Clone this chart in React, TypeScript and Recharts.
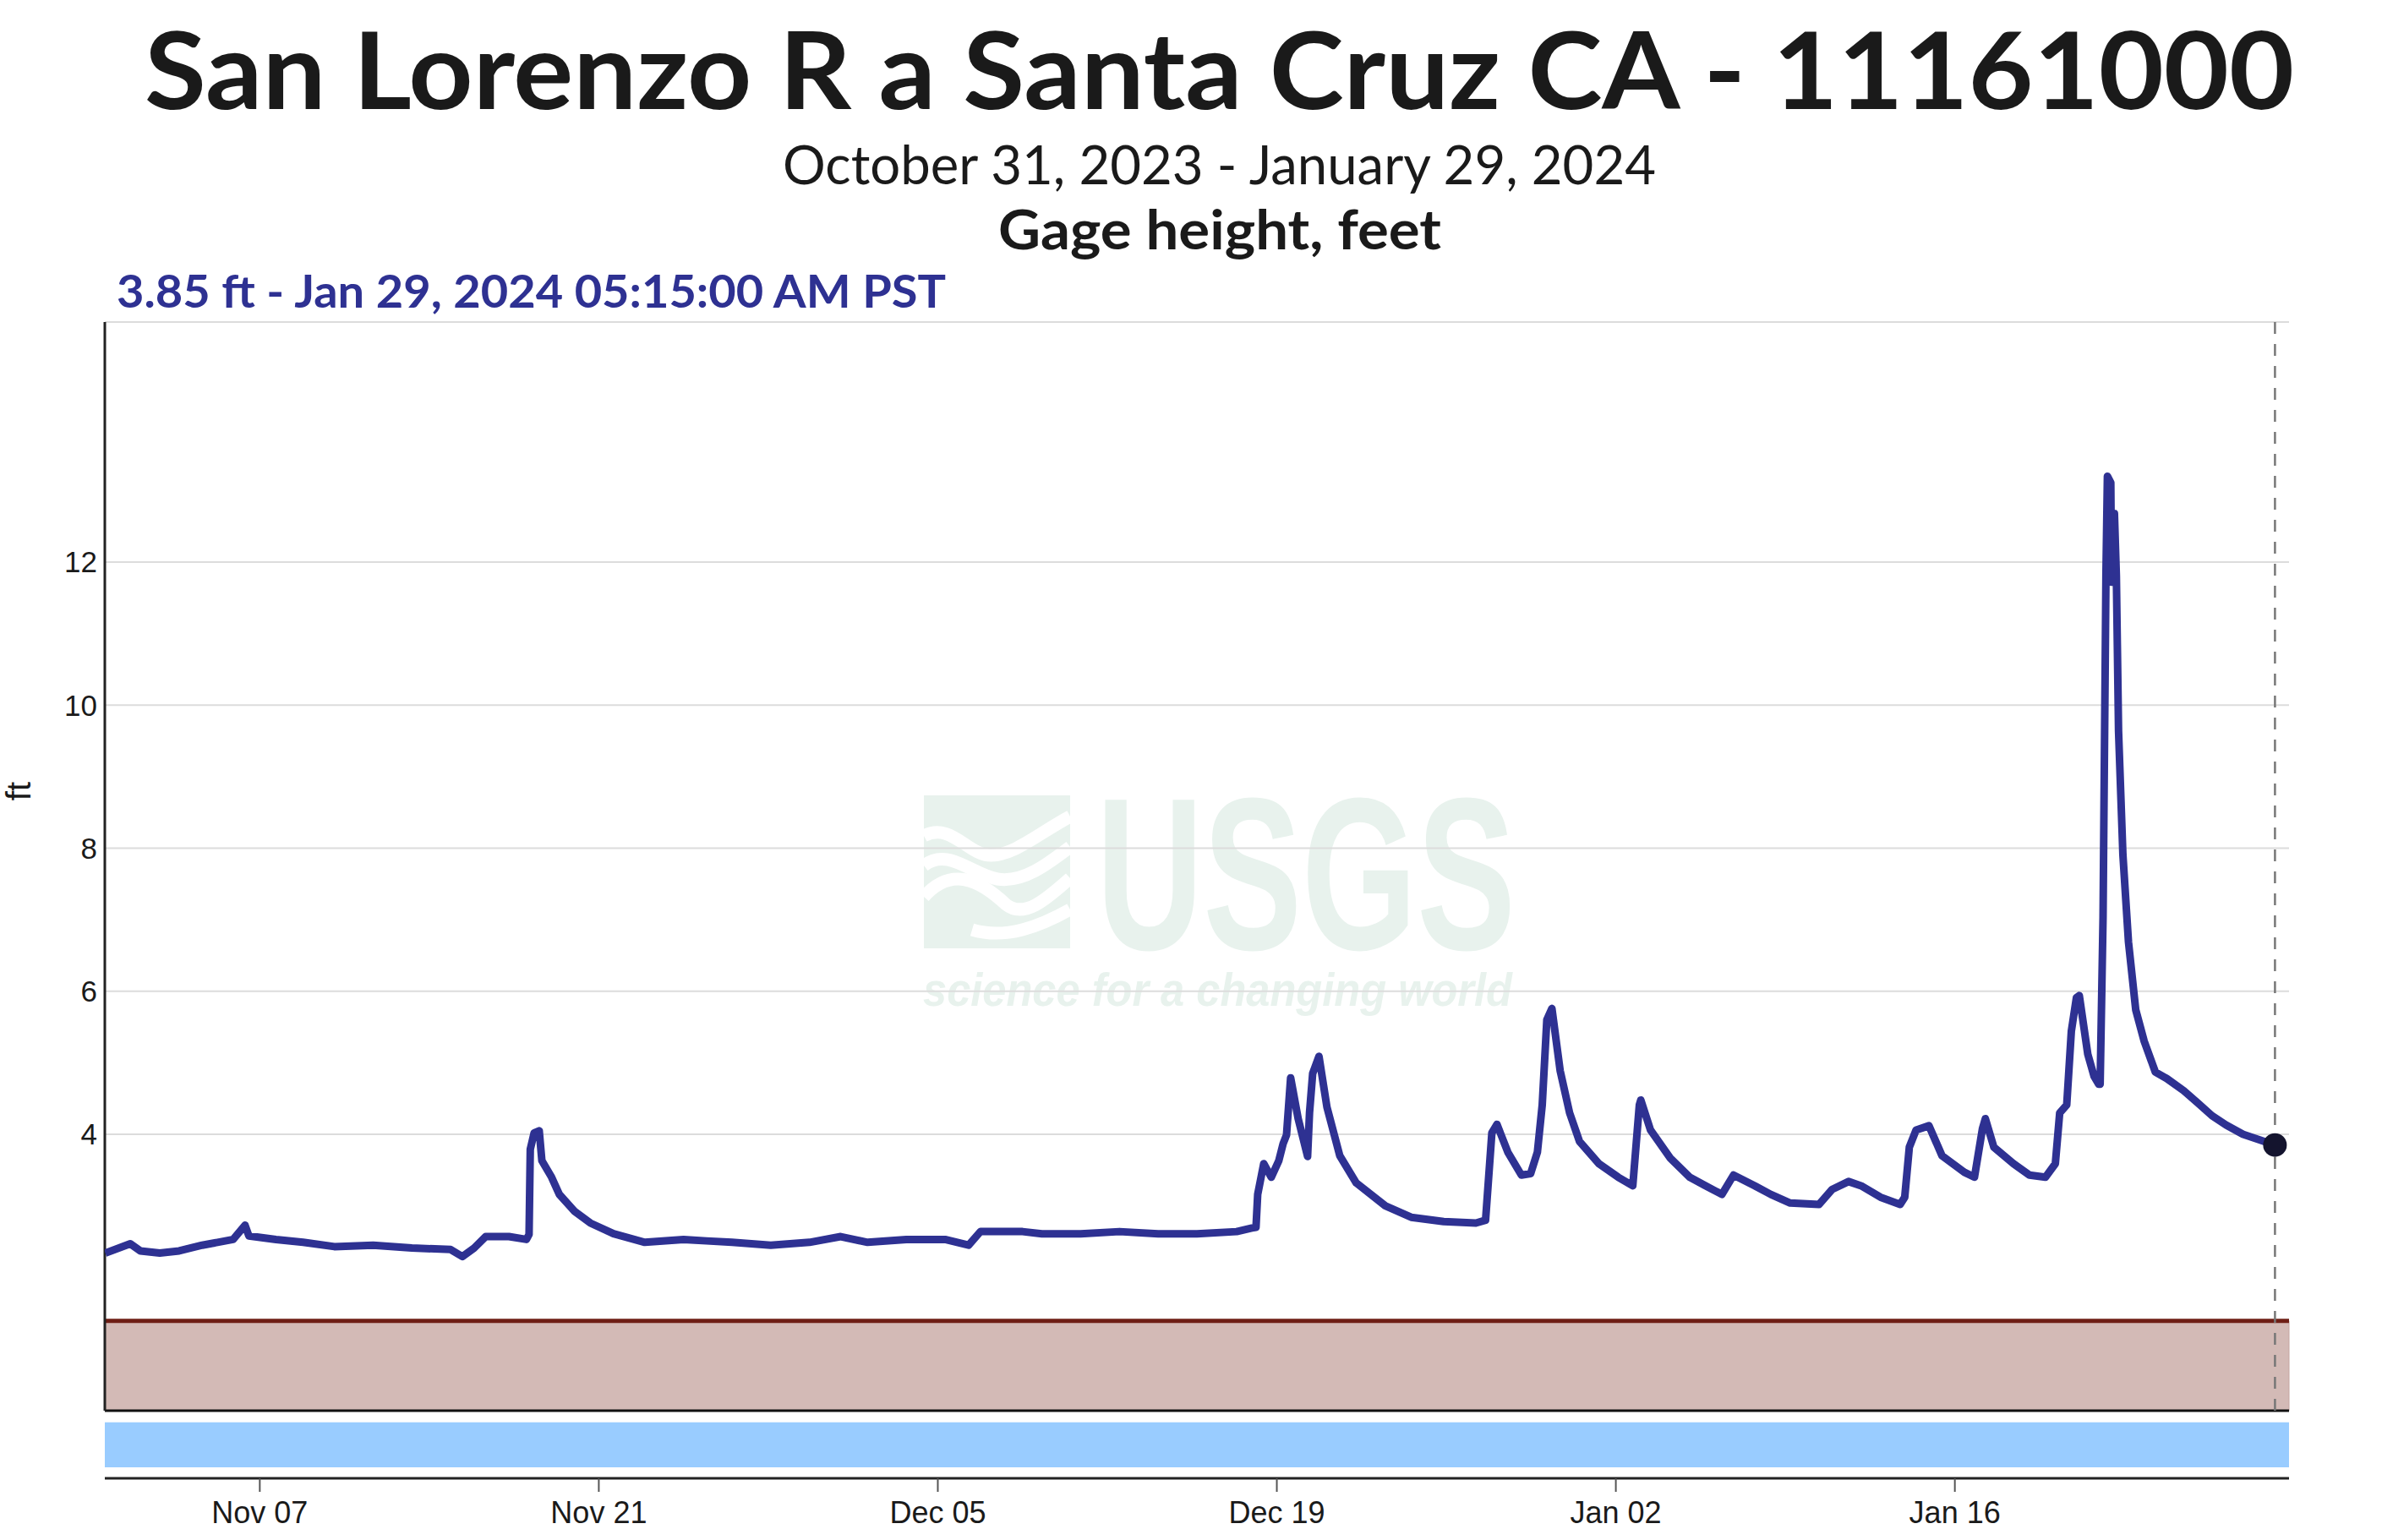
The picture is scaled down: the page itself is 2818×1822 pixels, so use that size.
import React from 'react'
import { CartesianGrid, Line, LineChart, ReferenceArea, ReferenceDot, ReferenceLine, XAxis, YAxis } from 'recharts'

// days since Oct 31 2023 00:00 PST
const days = [
  0.62, 1.65, 2.07, 2.87, 3.67, 4.62, 5.9, 6.39, 6.55, 7.67, 8.79, 10.08, 11.68, 13.28, 14.88, 15.37, 15.85,
  16.33, 17.29, 18.01, 18.12, 18.17, 18.33, 18.54, 18.65, 19.05, 19.37, 20.01, 20.65, 21.61, 22.9, 24.5, 25.45,
  26.5, 28.1, 29.7, 30.99, 32.1, 33.7, 35.3, 36.27, 36.76, 37.7, 38.5, 39.3, 40.9, 42.5, 44.1, 45.7, 47.34,
  47.97, 48.14, 48.21, 48.46, 48.77, 49.08, 49.26, 49.4, 49.57, 49.88, 50.27, 50.35, 50.48, 50.74, 51.07, 51.6,
  52.28, 53.48, 54.55, 55.89, 57.22, 57.62, 57.88, 58.09, 58.54, 59.1, 59.48, 59.76, 59.96, 60.15, 60.36, 60.7,
  61.09, 61.5, 62.3, 63.1, 63.7, 63.97, 64.03, 64.43, 65.24, 66.05, 66.71, 67.38, 67.86, 68.74, 69.4, 70.2,
  71.39, 71.93, 72.61, 73.13, 73.93, 74.74, 74.93, 75.12, 75.4, 75.93, 76.47, 77.39, 77.81, 78.14, 78.26, 78.61,
  79.42, 80.08, 80.74, 81.15, 81.33, 81.62, 81.81, 82.02, 82.14, 82.49, 82.75, 82.94, 83.0, 83.12, 83.24, 83.3,
  83.44, 83.47, 83.59, 83.67, 83.76, 83.94, 84.17, 84.47, 84.82, 85.28, 85.75, 86.45, 87.03, 87.62, 88.2, 88.9,
  89.6, 90.22,
]

const gageFt = [
  2.34, 2.47, 2.37, 2.34, 2.37, 2.45, 2.53, 2.73, 2.58, 2.53, 2.49, 2.43, 2.45, 2.41, 2.39, 2.29, 2.41,
  2.57, 2.57, 2.53, 2.6, 3.79, 4.02, 4.05, 3.63, 3.4, 3.16, 2.92, 2.76, 2.61, 2.49, 2.53, 2.51,
  2.49, 2.45, 2.49, 2.57, 2.49, 2.53, 2.53, 2.45, 2.64, 2.64, 2.64, 2.61, 2.61, 2.64, 2.61, 2.61, 2.64,
  2.69, 2.7, 3.16, 3.59, 3.4, 3.63, 3.87, 3.99, 4.79, 4.22, 3.69, 4.3, 4.85, 5.09, 4.38, 3.7,
  3.32, 3.0, 2.84, 2.78, 2.76, 2.8, 4.02, 4.14, 3.75, 3.43, 3.45, 3.75, 4.41, 5.6, 5.76, 4.89,
  4.3, 3.9, 3.59, 3.4, 3.28, 4.41, 4.48, 4.06, 3.67, 3.4, 3.28, 3.16, 3.43, 3.28, 3.16, 3.04,
  3.02, 3.23, 3.34, 3.28, 3.12, 3.02, 3.12, 3.82, 4.06, 4.12, 3.7, 3.47, 3.4, 4.08, 4.22, 3.82,
  3.59, 3.43, 3.4, 3.59, 4.3, 4.41, 5.44, 5.91, 5.94, 5.12, 4.81, 4.7, 4.7, 7.03, 11.81, 13.2,
  13.11, 11.72, 12.68, 11.81, 9.64, 7.91, 6.69, 5.74, 5.3, 4.87, 4.78, 4.61, 4.44, 4.26, 4.13, 4.0,
  3.92, 3.85,
]

const tickDays = [7, 21, 35, 49, 63, 77]
const tickLabels = ['Nov 07', 'Nov 21', 'Dec 05', 'Dec 19', 'Jan 02', 'Jan 16']
const yTicks = [4, 6, 8, 10, 12]

const title = 'San Lorenzo R a Santa Cruz CA - 11161000'
const dateRange = 'October 31, 2023 - January 29, 2024'
const parameter = 'Gage height, feet'
const latest = '3.85 ft - Jan 29, 2024 05:15:00 AM PST'

const X_DOMAIN: [number, number] = [0.6, 90.8]
const Y_DOMAIN: [number, number] = [-0.809, 15.356]
const PLOT_FLOOR = 0.136
const BAND_TOP = 1.392

const LINE = '#2e3192'
const AXIS_FONT = '"Liberation Sans", Arial, sans-serif'
const HEAD_FONT = 'Lato, "Open Sans", sans-serif'
const WATERMARK = '#e8f2ed'

export default function App() {
  const data = days.map((day, i) => ({ day, ft: gageFt[i] }))
  const lastDay = days[days.length - 1]
  const lastFt = gageFt[gageFt.length - 1]

  return (
    <div style={{ position: 'absolute', left: 0, top: 0, width: 2818, height: 1822, background: '#fff', overflow: 'hidden' }}>
      <Watermark />
      <div style={{ position: 'absolute', left: 0, top: 0 }}>
        <LineChart width={2818} height={1822} data={data} margin={{ top: 381, right: 110, bottom: 13, left: 24 }}>
          <CartesianGrid vertical={false} stroke="#dcdcdc" strokeWidth={2} />
          <ReferenceArea x1={X_DOMAIN[0]} x2={X_DOMAIN[1]} y1={PLOT_FLOOR} y2={BAND_TOP} fill="#d3bab6" fillOpacity={1} stroke="#c4a6a1" />
          <ReferenceArea x1={X_DOMAIN[0]} x2={X_DOMAIN[1]} y1={-0.656} y2={-0.026} fill="#99ccff" fillOpacity={1} />
          <ReferenceLine y={BAND_TOP} stroke="#6e1e15" strokeWidth={5} />
          <ReferenceLine y={PLOT_FLOOR} stroke="#111" strokeWidth={3} />
          <ReferenceLine
            segment={[{ x: X_DOMAIN[0], y: PLOT_FLOOR }, { x: X_DOMAIN[0], y: Y_DOMAIN[1] }]}
            stroke="#222"
            strokeWidth={3}
          />
          <ReferenceLine
            segment={[{ x: lastDay, y: PLOT_FLOOR }, { x: lastDay, y: Y_DOMAIN[1] }]}
            stroke="#777"
            strokeWidth={2.5}
            strokeDasharray="14 12"
          />
          <XAxis
            dataKey="day"
            type="number"
            domain={X_DOMAIN}
            ticks={tickDays}
            interval={0}
            allowDataOverflow
            tickFormatter={(v) => tickLabels[tickDays.indexOf(v)]}
            height={60}
            tickSize={16}
            tickMargin={11}
            axisLine={{ stroke: '#222', strokeWidth: 3 }}
            tickLine={{ stroke: '#555', strokeWidth: 2 }}
            tick={{ fontSize: 36, fill: '#1a1a1a', fontFamily: AXIS_FONT }}
          />
          <YAxis
            type="number"
            domain={Y_DOMAIN}
            ticks={yTicks}
            interval={0}
            allowDataOverflow
            width={100}
            axisLine={false}
            tickLine={false}
            tickSize={6}
            tickMargin={3}
            tick={{ fontSize: 35, fill: '#1a1a1a', fontFamily: AXIS_FONT }}
          />
          <Line
            type="linear"
            dataKey="ft"
            stroke={LINE}
            strokeWidth={9}
            strokeLinejoin="round"
            dot={false}
            isAnimationActive={false}
          />
          <ReferenceDot x={lastDay} y={lastFt} r={14} fill="#14142e" stroke="none" />
        </LineChart>
      </div>
      <Headings />
    </div>
  )
}

function Headings() {
  return (
    <svg width={2818} height={1822} style={{ position: 'absolute', left: 0, top: 0, pointerEvents: 'none' }}>
      <text x={171} y={129} fontFamily={HEAD_FONT} fontWeight={700} fontSize={127} fill="#1a1a1a" textLength={2543} lengthAdjust="spacingAndGlyphs">
        {title}
      </text>
      <text x={926} y={218} fontFamily={HEAD_FONT} fontWeight={400} fontSize={63} fill="#1a1a1a" textLength={1033} lengthAdjust="spacingAndGlyphs">
        {dateRange}
      </text>
      <text x={1181} y={295} fontFamily={HEAD_FONT} fontWeight={700} fontSize={65} fill="#1a1a1a" textLength={524} lengthAdjust="spacingAndGlyphs">
        {parameter}
      </text>
      <text x={138} y={364} fontFamily={HEAD_FONT} fontWeight={700} fontSize={54} fill={LINE} textLength={981} lengthAdjust="spacingAndGlyphs">
        {latest}
      </text>
      <text
        x={22}
        y={936}
        transform="rotate(-90 22 936)"
        textAnchor="middle"
        dominantBaseline="central"
        fontFamily={AXIS_FONT}
        fontSize={40}
        fill="#1a1a1a"
      >
        ft
      </text>
    </svg>
  )
}

function Watermark() {
  return (
    <svg width={2818} height={1822} style={{ position: 'absolute', left: 0, top: 0 }}>
      <rect x={1093} y={941} width={173} height={181} fill={WATERMARK} />
      <g fill="none" stroke="#fff" strokeWidth={15}>
        <path d="M1093 989 C1125 972 1145 1012 1172 1012 C1200 1012 1230 985 1266 966" />
        <path d="M1093 1024 C1122 1002 1150 1035 1180 1040 C1210 1045 1240 1022 1266 1002" />
        <path d="M1093 1061 C1125 1025 1158 1040 1190 1070 C1212 1088 1240 1062 1266 1039" />
        <path d="M1150 1100 C1190 1112 1230 1096 1266 1076" />
      </g>
      <text x={1297} y={1123} fontFamily={AXIS_FONT} fontWeight={700} fontSize={257} fill={WATERMARK} textLength={496} lengthAdjust="spacingAndGlyphs">
        USGS
      </text>
      <text x={1092} y={1190} fontFamily={AXIS_FONT} fontWeight={700} fontStyle="italic" fontSize={56} fill={WATERMARK} textLength={697} lengthAdjust="spacingAndGlyphs">
        science for a changing world
      </text>
    </svg>
  )
}
